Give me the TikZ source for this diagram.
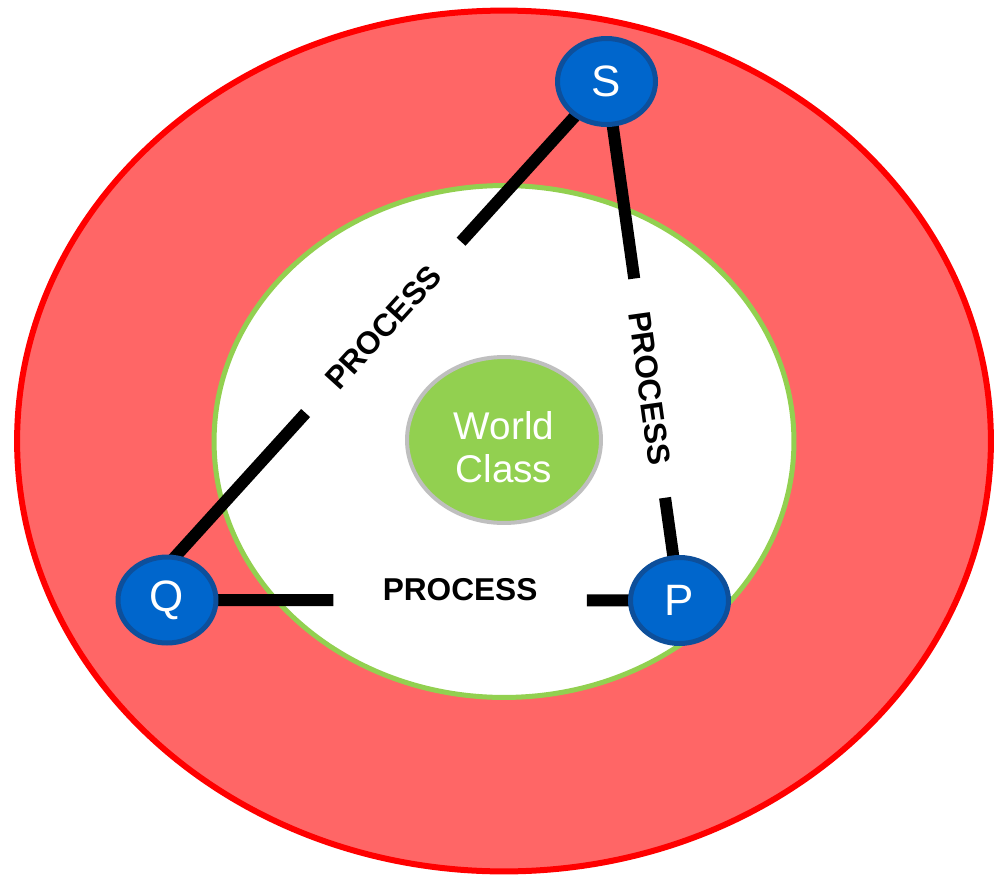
\documentclass[tikz,border=0pt]{standalone}
\usepackage{fontspec}
\setmainfont{Liberation Sans}
\usetikzlibrary{shapes.geometric}
\definecolor{ringred}{HTML}{FF6666}
\definecolor{worldgreen}{HTML}{92D050}
\definecolor{ballblue}{HTML}{0066CC}
\definecolor{balledge}{RGB}{13,79,155}
\definecolor{rimgray}{HTML}{BFBFBF}
\pgfdeclarelayer{rings}
\pgfdeclarelayer{links}
\pgfsetlayers{rings,links,main}

\begin{document}
\begin{tikzpicture}[x=0.02cm, y=-0.02cm,
        ball/.style={ellipse, draw=balledge, line width=0.1cm, fill=ballblue,
            text=white, inner sep=0pt, minimum width=1.96cm, minimum height=1.72cm,
            font=\fontsize{25}{28}\selectfont},
        link/.style={line width=0.24cm},
        proc/.style={sloped, inner ysep=1pt, font=\bfseries\fontsize{18}{20}\selectfont}]
    \useasboundingbox (0,0) rectangle (996,875);
    \begin{pgfonlayer}{rings}
        \draw[red, line width=0.12cm, fill=ringred] (504,441) ellipse [x radius=9.74cm, y radius=8.61cm];
        \draw[worldgreen, line width=0.1cm, fill=white] (504,441.5) ellipse [x radius=5.8cm, y radius=5.12cm];
    \end{pgfonlayer}

    \node[ellipse, draw=rimgray, line width=0.08cm, fill=worldgreen, text=white,
        minimum width=3.88cm, minimum height=3.32cm, align=center,
        font=\fontsize{22}{24.5}\selectfont] (wc) at (504,440) {\rule{0pt}{0.86cm}World\\Class};

    \node[ball] (S) at (606.5,81.5) {S};
    \node[ball] (Q) at (167,600) {Q};
    \node[ball] (P) at (679.5,600.5) {P};

    \path (Q.78) -- node[proc, pos=0.52, inner xsep=0.76cm] (qs) {PROCESS} (S);
    \path (S) -- node[proc, pos=0.61, inner xsep=0.66cm] (sp) {PROCESS} (P);
    \path (Q) -- node[proc, pos=0.59, inner xsep=0.98cm, anchor=base] (qp) {PROCESS} (P);

    \begin{pgfonlayer}{links}
        \draw[link, shorten <=-0.15cm] (Q.78) -- (qs.west);
        \draw[link] (qs.east) -- (S.center);
        \draw[link] (S.center) -- (sp.west);
        \draw[link] (sp.east) -- (P.center);
        \draw[link] (Q.center) -- (qp.base west);
        \draw[link] (qp.base east) -- (P.center);
    \end{pgfonlayer}
\end{tikzpicture}
\end{document}
